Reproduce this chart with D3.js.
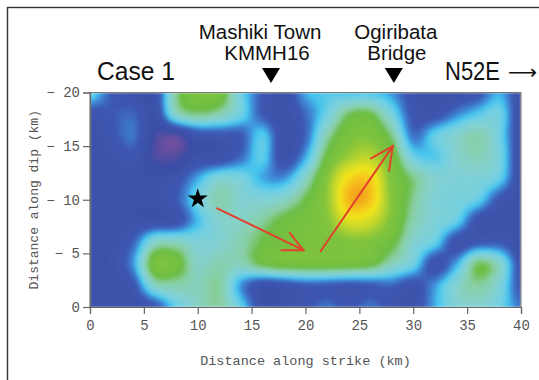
<!DOCTYPE html>
<html>
<head>
<meta charset="utf-8">
<script src="https://cdn.jsdelivr.net/npm/d3@7"></script>
<style>
  html, body { margin: 0; padding: 0; background: #fff; }
  svg { display: block; }
</style>
</head>
<body>
<svg id="chart" width="539" height="380"></svg>
<script>
// Subfault grid nodes (km)
const strikeKm = [0, 2, 4, 6, 8, 10, 12, 14, 16, 18, 20, 22, 24, 26, 28, 30, 32, 34, 36, 38, 40];
const dipKm = [-20, -18, -16, -14, -12, -10, -8, -6, -4, -2, 0];

// Normalized slip; one row per dipKm entry, one column per strikeKm entry
const slipRowM20 = [0.30, 0.12, 0.06, 0.06, 0.45, 0.58, 0.56, 0.30, 0.12, 0.05, 0.22, 0.26, 0.25, 0.25, 0.20, 0.08, 0.05, 0.05, 0.10, 0.22, 0.06];
const slipRowM18 = [0.08, 0.12, 0.14, 0.05, 0.38, 0.46, 0.42, 0.30, 0.12, 0.05, 0.15, 0.30, 0.48, 0.50, 0.32, 0.10, 0.08, 0.18, 0.26, 0.30, 0.05];
const slipRowM16 = [0.05, 0.10, 0.16, -0.01, -0.03, 0.08, 0.10, 0.12, 0.26, 0.05, 0.14, 0.42, 0.58, 0.60, 0.46, 0.16, 0.28, 0.36, 0.42, 0.30, 0.05];
const slipRowM14 = [0.05, 0.06, 0.10, -0.02, -0.03, 0.05, 0.06, 0.15, 0.27, 0.06, 0.22, 0.52, 0.66, 0.70, 0.56, 0.30, 0.26, 0.36, 0.40, 0.32, 0.05];
const slipRowM12 = [0.05, 0.05, 0.05, 0.05, 0.08, 0.22, 0.34, 0.32, 0.22, 0.20, 0.38, 0.62, 0.82, 0.84, 0.60, 0.46, 0.36, 0.34, 0.34, 0.28, 0.05];
const slipRowM10 = [0.05, 0.05, 0.05, 0.05, 0.12, 0.30, 0.42, 0.36, 0.35, 0.38, 0.50, 0.64, 0.88, 0.86, 0.62, 0.45, 0.34, 0.32, 0.28, 0.10, 0.05];
const slipRowM8  = [0.05, 0.05, 0.05, 0.06, 0.08, 0.24, 0.36, 0.38, 0.44, 0.52, 0.56, 0.62, 0.76, 0.74, 0.60, 0.42, 0.34, 0.28, 0.08, 0.05, 0.05];
const slipRowM6  = [0.05, 0.05, 0.14, 0.38, 0.40, 0.34, 0.36, 0.42, 0.50, 0.55, 0.57, 0.58, 0.60, 0.60, 0.52, 0.36, 0.28, 0.08, 0.12, 0.12, 0.05];
const slipRowM4  = [0.05, 0.05, 0.20, 0.56, 0.54, 0.38, 0.42, 0.40, 0.50, 0.55, 0.56, 0.56, 0.55, 0.52, 0.40, 0.30, 0.08, 0.22, 0.48, 0.38, 0.08];
const slipRowM2  = [0.05, 0.05, 0.10, 0.38, 0.42, 0.40, 0.44, 0.20, 0.06, 0.08, 0.12, 0.12, 0.10, 0.12, 0.14, 0.08, 0.20, 0.36, 0.44, 0.34, 0.10];
const slipRow0   = [0.05, 0.05, 0.05, 0.10, 0.28, 0.38, 0.44, 0.28, 0.06, 0.06, 0.10, 0.16, 0.10, 0.16, 0.08, 0.06, 0.22, 0.34, 0.36, 0.30, 0.16];

// Axis ticks
const xTicks = [0, 5, 10, 15, 20, 25, 30, 35, 40];
const xTickLabels = ["0", "5", "10", "15", "20", "25", "30", "35", "40"];
const yTicks = [-20, -15, -10, -5, 0];
const yTickLabels = ["\u2212 20", "\u2212 15", "\u2212 10", "\u2212 5", "0"];

// Hypocenter and rupture directions (strike km, dip km)
const hypocenter = [10, -10.1];
const arrowStarts = [[11.8, -9.2], [21.4, -5.2]];
const arrowEnds = [[19.8, -5.3], [28.1, -15.0]];

// Stations along strike
const stationNames = [["Mashiki Town", "KMMH16"], ["Ogiribata", "Bridge"]];
const stationKm = [16.8, 28.2];

// Slip colour ramp
const colorStops = [-0.08, 0.0, 0.12, 0.19, 0.24, 0.29, 0.36, 0.44, 0.50, 0.62, 0.72, 0.80, 0.86, 0.92, 1.0];
const colorValues = ["#7a4f9e", "#3a4ea6", "#3d57b0", "#3f88d6", "#44c3ee", "#70cfe4", "#84d1d2", "#88cfa4",
                     "#6cbe45", "#82c43c", "#c6d82c", "#f2e41c", "#f5c41e", "#f39a20", "#ec6a26"];

const slipRows = [slipRowM20, slipRowM18, slipRowM16, slipRowM14, slipRowM12, slipRowM10,
                  slipRowM8, slipRowM6, slipRowM4, slipRowM2, slipRow0];

const svg = d3.select("#chart");
const plot = { left: 90, right: 521, top: 92.5, bottom: 307 };

const x = d3.scaleLinear().domain([0, 40]).range([plot.left, plot.right]);
const y = d3.scaleLinear().domain([-20, 0]).range([plot.top, plot.bottom]);
const color = d3.scaleLinear().domain(colorStops).range(colorValues)
  .interpolate(d3.interpolateRgb).clamp(true);

// Outer frame
svg.append("rect").attr("x", 7.5).attr("y", 7.5).attr("width", 600).attr("height", 400)
  .attr("fill", "none").attr("stroke", "#333").attr("stroke-width", 1.4);

// ---- Slip distribution raster (bicubic between subfault nodes) ----
const W = Math.round(plot.right - plot.left), H = Math.round(plot.bottom - plot.top);
const canvas = document.createElement("canvas");
canvas.width = W; canvas.height = H;
const ctx = canvas.getContext("2d");
const img = ctx.createImageData(W, H);
const colIdx = d3.scaleLinear().domain(d3.extent(strikeKm)).range([0, strikeKm.length - 1]);
const rowIdx = d3.scaleLinear().domain(d3.extent(dipKm)).range([0, dipKm.length - 1]);
const lut = d3.range(1301).map(k => d3.rgb(color(-0.15 + k / 1000)));
const nC = strikeKm.length, nR = dipKm.length;
const at = (r, c) => slipRows[Math.max(0, Math.min(nR - 1, r))][Math.max(0, Math.min(nC - 1, c))];
const cubic = (p0, p1, p2, p3, t) =>
  p1 + 0.5 * t * (p2 - p0 + t * (2 * p0 - 5 * p1 + 4 * p2 - p3 + t * (3 * (p1 - p2) + p3 - p0)));

for (let py = 0; py < H; py++) {
  const fy = rowIdx(y.invert(plot.top + py + 0.5));
  const r0 = Math.max(0, Math.min(nR - 2, Math.floor(fy)));
  const ty = Math.max(0, Math.min(1, fy - r0));
  for (let px = 0; px < W; px++) {
    const fx = colIdx(x.invert(plot.left + px + 0.5));
    const c0 = Math.max(0, Math.min(nC - 2, Math.floor(fx)));
    const tx = Math.max(0, Math.min(1, fx - c0));
    const rows = [-1, 0, 1, 2].map(dr =>
      cubic(at(r0 + dr, c0 - 1), at(r0 + dr, c0), at(r0 + dr, c0 + 1), at(r0 + dr, c0 + 2), tx));
    const v = cubic(rows[0], rows[1], rows[2], rows[3], ty);
    const k = Math.max(0, Math.min(1300, Math.round((v + 0.15) * 1000)));
    const col = lut[k];
    const o = (py * W + px) * 4;
    img.data[o] = col.r; img.data[o + 1] = col.g; img.data[o + 2] = col.b; img.data[o + 3] = 255;
  }
}
ctx.putImageData(img, 0, 0);

const defs = svg.append("defs");
defs.append("filter").attr("id", "soft").attr("x", 0).attr("y", 0).attr("width", 1).attr("height", 1)
  .append("feGaussianBlur").attr("stdDeviation", 0.9).attr("edgeMode", "duplicate");
defs.append("clipPath").attr("id", "plotClip").append("rect")
  .attr("x", plot.left).attr("y", plot.top).attr("width", W).attr("height", H);

svg.append("g").attr("clip-path", "url(#plotClip)")
  .append("image")
  .attr("x", plot.left).attr("y", plot.top).attr("width", W).attr("height", H)
  .attr("preserveAspectRatio", "none")
  .attr("href", canvas.toDataURL())
  .attr("filter", "url(#soft)");

// Plot border
svg.append("rect").attr("x", plot.left).attr("y", plot.top).attr("width", W).attr("height", H)
  .attr("fill", "none").attr("stroke", "#777").attr("stroke-width", 1);

// ---- Axes ----
const monoFont = "'Liberation Mono', 'DejaVu Sans Mono', monospace";
const xAxis = svg.append("g").attr("transform", `translate(0,${plot.bottom})`)
  .call(d3.axisBottom(x).tickValues(xTicks).tickFormat((d, i) => xTickLabels[i]).tickSize(7).tickPadding(6));
const yAxis = svg.append("g").attr("transform", `translate(${plot.left},0)`)
  .call(d3.axisLeft(y).tickValues(yTicks).tickFormat((d, i) => yTickLabels[i]).tickSize(7).tickPadding(3));
[xAxis, yAxis].forEach(g => {
  g.select(".domain").attr("stroke", "#666").attr("stroke-width", 1.2);
  g.selectAll(".tick line").attr("stroke", "#666").attr("stroke-width", 1.2);
  g.selectAll(".tick text").attr("fill", "#555").style("font-family", monoFont)
    .style("font-size", "14px").style("white-space", "pre").attr("xml:space", "preserve");
});

svg.append("text").attr("x", (plot.left + plot.right) / 2).attr("y", 365)
  .attr("text-anchor", "middle").attr("fill", "#555")
  .style("font-family", monoFont).style("font-size", "13.5px")
  .text("Distance along strike (km)");
svg.append("text").attr("transform", `translate(38,${(plot.top + plot.bottom) / 2}) rotate(-90)`)
  .attr("text-anchor", "middle").attr("fill", "#555")
  .style("font-family", monoFont).style("font-size", "13px")
  .text("Distance along dip (km)");

// ---- Rupture arrows ----
const arrowHead = [22, 25];
const arrows = svg.append("g").attr("stroke", "#e2412e").attr("stroke-width", 2)
  .attr("fill", "none").attr("stroke-linecap", "round");
arrowStarts.forEach((s, i) => {
  const x0 = x(s[0]), y0 = y(s[1]), x1 = x(arrowEnds[i][0]), y1 = y(arrowEnds[i][1]);
  const ang = Math.atan2(y1 - y0, x1 - x0);
  const L = arrowHead[i], spread = 26 * Math.PI / 180;
  arrows.append("line").attr("x1", x0).attr("y1", y0).attr("x2", x1).attr("y2", y1);
  arrows.append("path").attr("d",
    `M${x1 - L * Math.cos(ang - spread)},${y1 - L * Math.sin(ang - spread)}L${x1},${y1}` +
    `L${x1 - L * Math.cos(ang + spread)},${y1 - L * Math.sin(ang + spread)}`);
});

// Hypocenter star
svg.append("path")
  .attr("d", d3.symbol(d3.symbolStar, 124)())
  .attr("transform", `translate(${x(hypocenter[0])},${y(hypocenter[1])})`)
  .attr("fill", "#000");

// ---- Header labels ----
const sansFont = "'Liberation Sans', Arial, sans-serif";
const header = svg.append("g").attr("fill", "#111").style("font-family", sansFont);
header.append("text").attr("x", 97).attr("y", 80).style("font-size", "26px")
  .attr("textLength", 78).attr("lengthAdjust", "spacingAndGlyphs").text("Case 1");
header.append("text").attr("x", 445).attr("y", 80).style("font-size", "25px")
  .attr("textLength", 55).attr("lengthAdjust", "spacingAndGlyphs").text("N52E");
header.append("text").attr("x", 508).attr("y", 79).style("font-size", "20px")
  .style("font-family", "'DejaVu Sans', sans-serif")
  .attr("textLength", 29).attr("lengthAdjust", "spacingAndGlyphs").text("\u27F6");

const stationLabelDx = [[-11, -4], [2, 3]];
stationKm.forEach((km, i) => {
  const sx = x(km);
  svg.append("path")
    .attr("d", `M${sx - 9},${68}L${sx + 9},${68}L${sx},${83}Z`)
    .attr("fill", "#000");
  header.append("text").attr("x", sx + stationLabelDx[i][0]).attr("y", 39)
    .attr("text-anchor", "middle").style("font-size", "20.5px").text(stationNames[i][0]);
  header.append("text").attr("x", sx + stationLabelDx[i][1]).attr("y", 60)
    .attr("text-anchor", "middle").style("font-size", "20.5px").text(stationNames[i][1]);
});
</script>
</body>
</html>
